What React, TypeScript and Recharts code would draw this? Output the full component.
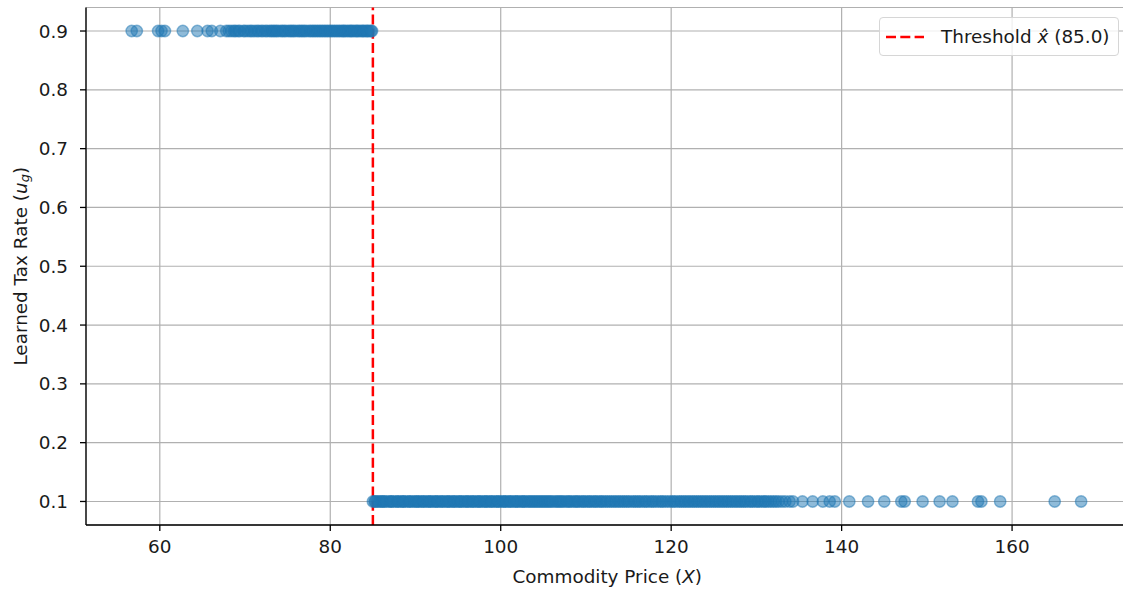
import {
  CartesianGrid,
  Legend,
  ReferenceLine,
  Scatter,
  ScatterChart,
  XAxis,
  YAxis,
} from 'recharts'

// x positions of the points (dense runs look like a solid band)
const highX = [
  56.7, 57.3, 59.8, 60.2, 60.6, 62.7, 64.4, 65.6, 66.1, 67.1, 67.8, 68.1, 68.4, 68.7, 68.9,
  69.2, 69.4, 69.8, 70.0, 70.3, 70.6, 70.8, 71.1, 71.4, 71.6, 71.9, 72.1, 72.4, 72.6, 72.9,
  73.1, 73.3, 73.5, 73.7, 73.9, 74.2, 74.4, 74.6, 74.8, 75.1, 75.3, 75.5, 75.7, 75.9, 76.2,
  76.4, 76.6, 76.8, 77.0, 77.2, 77.5, 77.7, 77.9, 78.1, 78.3, 78.5, 78.7, 78.9, 79.1, 79.3,
  79.5, 79.7, 79.9, 80.1, 80.3, 80.5, 80.7, 80.9, 81.1, 81.3, 81.5, 81.6, 81.8, 82.0, 82.2,
  82.4, 82.5, 82.7, 82.9, 83.1, 83.2, 83.4, 83.6, 83.8, 83.9, 84.1, 84.3, 84.4, 84.6, 84.8,
  84.9,
]
const lowX = [
  85.0, 85.2, 85.3, 85.5, 85.7, 85.9, 86.1, 86.2, 86.4, 86.6, 86.9, 87.1, 87.2, 87.4, 87.7,
  87.9, 88.0, 88.3, 88.5, 88.6, 88.8, 89.1, 89.3, 89.4, 89.7, 89.9, 90.1, 90.3, 90.4, 90.7,
  90.9, 91.0, 91.3, 91.5, 91.7, 91.8, 92.1, 92.3, 92.5, 92.6, 92.9, 93.1, 93.2, 93.5, 93.7,
  93.9, 94.0, 94.3, 94.5, 94.6, 94.9, 95.1, 95.3, 95.4, 95.7, 95.9, 96.1, 96.2, 96.5, 96.7,
  96.8, 97.1, 97.3, 97.5, 97.6, 97.9, 98.1, 98.3, 98.4, 98.7, 98.9, 99.0, 99.3, 99.5, 99.7,
  99.8, 100.1, 100.3, 100.5, 100.6, 100.9, 101.1, 101.2, 101.5, 101.7, 101.9, 102.0, 102.3,
  102.5, 102.7, 102.8, 103.1, 103.3, 103.5, 103.7, 103.9, 104.1, 104.3, 104.5, 104.7, 104.9,
  105.1, 105.3, 105.5, 105.7, 105.9, 106.1, 106.4, 106.6, 106.8, 107.0, 107.2, 107.4, 107.7,
  107.9, 108.1, 108.3, 108.6, 108.8, 109.0, 109.2, 109.5, 109.7, 109.9, 110.2, 110.4, 110.6,
  110.9, 111.1, 111.3, 111.6, 111.8, 112.0, 112.3, 112.5, 112.8, 113.0, 113.3, 113.5, 113.8,
  114.0, 114.3, 114.5, 114.8, 115.0, 115.3, 115.6, 115.8, 116.1, 116.3, 116.6, 116.9, 117.1,
  117.4, 117.7, 117.9, 118.2, 118.5, 118.8, 119.0, 119.3, 119.6, 119.9, 120.2, 120.4, 120.7,
  121.0, 121.2, 121.5, 121.7, 122.0, 122.2, 122.5, 122.7, 123.0, 123.2, 123.5, 123.7, 124.0,
  124.2, 124.5, 124.7, 125.0, 125.2, 125.5, 125.7, 126.0, 126.2, 126.5, 126.7, 127.0, 127.2,
  127.5, 127.7, 128.0, 128.2, 128.5, 128.7, 129.0, 129.3, 129.5, 129.8, 130.1, 130.3, 130.6,
  130.9, 131.1, 131.4, 131.7, 132.0, 132.3, 132.6, 133.0, 133.4, 133.9, 134.3, 135.4, 136.6,
  137.8, 138.6, 139.2, 140.9, 143.1, 145.0, 147.0, 147.4, 149.5, 151.5, 153.0, 156.0, 156.4,
  158.6, 165.0, 168.1,
]
const highRate = 0.9
const lowRate = 0.1
const threshold = 85.0

const xTicks = [60, 80, 100, 120, 140, 160]
const yTicks = [0.1, 0.2, 0.3, 0.4, 0.5, 0.6, 0.7, 0.8, 0.9]
const X_DOMAIN = [51.34, 173.66]
const Y_DOMAIN = [0.06, 0.94]

const FONT = '"DejaVu Sans", sans-serif'
const FS = 18.4
const BLUE = '#1f77b4'
const INK = '#1a1a1a'

const highData = highX.map((x) => ({ x, y: highRate }))
const lowData = lowX.map((x) => ({ x, y: lowRate }))

const Dot = (props: any) => (
  <circle
    cx={props.cx}
    cy={props.cy}
    r={5.7}
    fill={BLUE}
    fillOpacity={0.5}
    stroke={BLUE}
    strokeOpacity={0.5}
    strokeWidth={1.4}
  />
)

const YLabel = ({ viewBox }: any) => {
  const cx = viewBox.x + 20
  const cy = viewBox.y + viewBox.height / 2
  return (
    <text
      x={cx}
      y={cy}
      transform={`rotate(-90 ${cx} ${cy})`}
      textAnchor="middle"
      dominantBaseline="central"
      fontSize={FS}
      fontFamily={FONT}
      fill={INK}
    >
      Learned Tax Rate (<tspan fontStyle="italic">u</tspan>
      <tspan fontStyle="italic" fontSize={13} dy={4}>g</tspan>
      <tspan dy={-4}>)</tspan>
    </text>
  )
}

const XLabel = ({ viewBox }: any) => {
  const cx = viewBox.x + viewBox.width / 2
  const cy = viewBox.y + 51
  return (
    <text x={cx} y={cy} textAnchor="middle" dominantBaseline="central" fontSize={FS} fontFamily={FONT} fill={INK}>
      Commodity Price (<tspan fontStyle="italic">X</tspan>)
    </text>
  )
}

const LegendBox = () => (
  <div
    style={{
      display: 'flex',
      alignItems: 'center',
      gap: 17,
      padding: '0 8px 0 6px',
      height: 37,
      border: '1px solid #d6d6d6',
      borderRadius: 4,
      background: 'rgba(255,255,255,0.8)',
      fontFamily: FONT,
      fontSize: FS,
      color: INK,
      whiteSpace: 'nowrap',
    }}
  >
    <svg width={38} height={4}>
      <line x1={0} y1={2} x2={38} y2={2} stroke="red" strokeWidth={2.5} strokeDasharray="10 4.3" />
    </svg>
    <span>
      Threshold <i>x̂</i> (85.0)
    </span>
  </div>
)

const axisLine = { stroke: '#000', strokeWidth: 1.3 }

export default function App() {
  return (
    <div style={{ position: 'absolute', left: 0, top: 0, width: 1123, height: 591, overflow: 'hidden', background: '#fff' }}>
      <ScatterChart width={1140} height={591} margin={{ top: 7.5, right: 11.5, bottom: 0, left: 0 }}>
        <CartesianGrid stroke="#b0b0b0" strokeWidth={1.2} />
        <XAxis
          type="number"
          dataKey="x"
          domain={X_DOMAIN}
          ticks={xTicks}
          allowDataOverflow
          height={66}
          tickSize={6}
          tickMargin={9}
          axisLine={axisLine}
          tickLine={axisLine}
          tick={{ fontSize: FS, fontFamily: FONT, fill: INK }}
          label={<XLabel />}
        />
        <XAxis
          xAxisId="top"
          orientation="top"
          type="number"
          domain={X_DOMAIN}
          allowDataOverflow
          height={0}
          tick={false}
          tickLine={false}
          axisLine={axisLine}
        />
        <YAxis
          type="number"
          dataKey="y"
          domain={Y_DOMAIN}
          ticks={yTicks}
          allowDataOverflow
          width={86}
          tickSize={6}
          tickMargin={12}
          axisLine={axisLine}
          tickLine={axisLine}
          tickFormatter={(v: number) => v.toFixed(1)}
          tick={{ fontSize: FS, fontFamily: FONT, fill: INK }}
          label={<YLabel />}
        />
        <Scatter data={highData} shape={Dot} isAnimationActive={false} />
        <Scatter data={lowData} shape={Dot} isAnimationActive={false} />
        <ReferenceLine x={threshold} stroke="red" strokeWidth={2.5} strokeDasharray="10 4.3" />
        <Legend
          layout="vertical"
          align="center"
          verticalAlign="middle"
          content={<LegendBox />}
          wrapperStyle={{ left: 879, top: 17, width: 'auto', height: 'auto' }}
        />
      </ScatterChart>
    </div>
  )
}
